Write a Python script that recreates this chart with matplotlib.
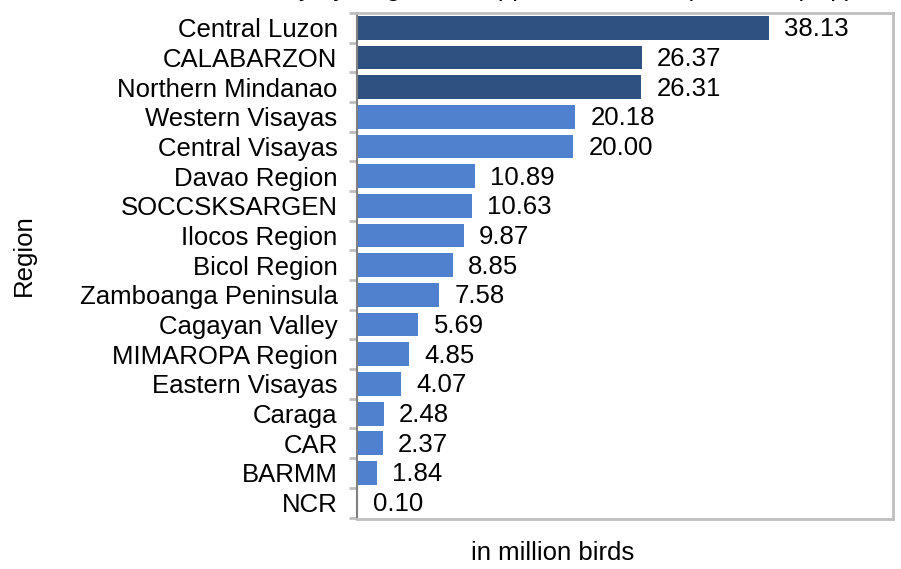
import matplotlib.pyplot as plt

plt.rcParams['font.family'] = ['Liberation Sans', 'DejaVu Sans']

regions = ["Central Luzon", "CALABARZON", "Northern Mindanao", "Western Visayas",
           "Central Visayas", "Davao Region", "SOCCSKSARGEN", "Ilocos Region",
           "Bicol Region", "Zamboanga Peninsula", "Cagayan Valley", "MIMAROPA Region",
           "Eastern Visayas", "Caraga", "CAR", "BARMM", "NCR"]
birds = [38.13, 26.37, 26.31, 20.18, 20.00, 10.89, 10.63, 9.87, 8.85, 7.58,
         5.69, 4.85, 4.07, 2.48, 2.37, 1.84, 0.10]
top_n = 3

dark = '#2F5181'
light = '#4F81CF'
fs = 18.5

fig = plt.figure(figsize=(9.01, 5.69), dpi=100)
ax = fig.add_axes([357 / 901, 1 - 519 / 569, (893 - 357) / 901, (519 - 13) / 569])

colors = [dark if i < top_n else light for i in range(len(regions))]
pos = list(range(len(regions)))
bars = ax.barh(pos, birds, height=0.8, color=colors)

for b, v in zip(bars, birds):
    ax.annotate(f"{v:.2f}", (b.get_width(), b.get_y() + b.get_height() / 2),
                xytext=(11, -1), textcoords='offset points', va='center', ha='left',
                fontsize=fs)

ax.set_xlim(0, 49.6)
ax.set_ylim(len(regions) - 0.45, -0.45)
ax.set_yticks(pos)
ax.set_yticklabels(regions, fontsize=fs)
ax.tick_params(axis='y', length=0, pad=14)
ax.set_yticks([p + 0.5 for p in range(-1, len(regions))], minor=True)
ax.tick_params(axis='y', which='minor', length=6, color='#BFBFBF', width=2)
ax.set_xticks([])

for s in ['top', 'right', 'bottom']:
    ax.spines[s].set_color('#BFBFBF')
    ax.spines[s].set_linewidth(2)
ax.spines['left'].set_color('#808080')
ax.spines['left'].set_linewidth(1.5)

fig.text(24 / 901, 1 - 255 / 569, "Region", rotation=90, ha='center', va='center', fontsize=fs)
fig.text(553 / 901, 1 - 553 / 569, "in million birds", ha='center', va='center', fontsize=fs)
# title sits mostly above the top edge, only descenders show
fig.text(480 / 901, 1 + 4 / 569, "Chicken Inventory by Region, Philippines, as of 1 April 2024 (Top)",
         ha='center', va='baseline', fontsize=fs)

fig.savefig('out.png', dpi=100)
